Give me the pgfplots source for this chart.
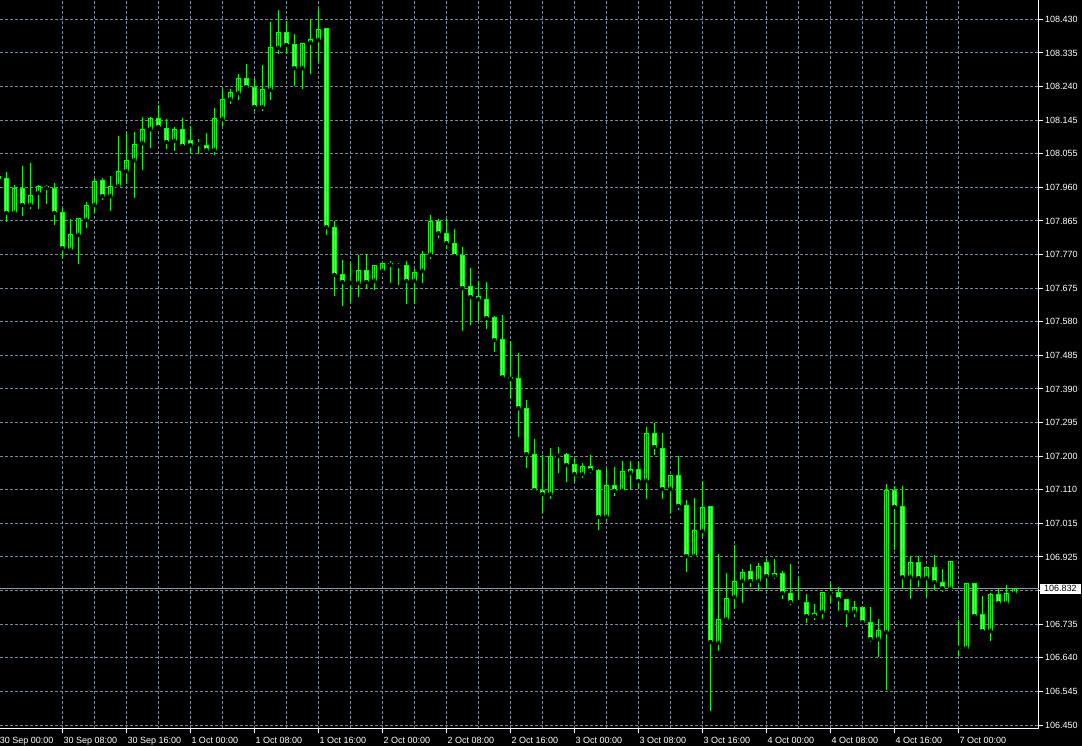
\documentclass[border=0pt]{standalone}
\usepackage{pgfplots}
\usepackage{pgfplotstable}
\pgfplotsset{compat=1.18}
\usepackage{fontspec}
\setmainfont{Liberation Sans}
\definecolor{cgreen}{RGB}{0,255,0}
\definecolor{cgrid}{RGB}{119,136,153}
\definecolor{cprice}{RGB}{150,150,150}

\pgfplotstableread{
i O H L C
0 107.982 107.999 107.971 107.990
1 107.982 108.002 107.861 107.887
2 107.887 107.965 107.884 107.954
3 107.954 108.018 107.878 107.909
4 107.909 108.027 107.898 107.937
5 107.943 107.965 107.898 107.962
6 107.962 107.965 107.912 107.957
7 107.954 107.971 107.853 107.887
8 107.887 107.901 107.760 107.788
9 107.783 107.870 107.780 107.825
10 107.825 107.870 107.743 107.870
11 107.867 107.917 107.845 107.909
12 107.909 107.985 107.887 107.976
13 107.979 107.985 107.923 107.934
14 107.934 107.990 107.892 107.962
15 107.962 108.103 107.962 108.004
16 108.004 108.111 107.968 108.035
17 108.035 108.114 107.929 108.080
18 108.083 108.156 108.007 108.122
19 108.122 108.156 108.069 108.153
20 108.153 108.190 108.122 108.128
21 108.125 108.150 108.066 108.086
22 108.089 108.128 108.061 108.122
23 108.122 108.153 108.069 108.075
24 108.091 108.131 108.052 108.077
25 108.080 108.094 108.052 108.080
26 108.077 108.111 108.061 108.063
27 108.063 108.181 108.049 108.153
28 108.150 108.234 108.131 108.206
29 108.206 108.234 108.192 108.226
30 108.223 108.277 108.204 108.265
31 108.265 108.305 108.234 108.240
32 108.240 108.263 108.173 108.184
33 108.184 108.302 108.173 108.234
34 108.232 108.422 108.204 108.350
35 108.350 108.456 108.333 108.394
36 108.394 108.425 108.333 108.358
37 108.358 108.389 108.243 108.293
38 108.293 108.364 108.234 108.361
39 108.364 108.431 108.277 108.372
40 108.372 108.459 108.307 108.400
41 108.403 108.403 107.825 107.847
42 107.847 107.864 107.654 107.713
43 107.713 107.755 107.626 107.693
44 107.690 107.746 107.634 107.690
45 107.690 107.769 107.651 107.724
46 107.724 107.772 107.673 107.693
47 107.696 107.741 107.671 107.738
48 107.724 107.746 107.718 107.746
49 107.746 107.752 107.690 107.741
50 107.738 107.746 107.685 107.738
51 107.738 107.752 107.631 107.696
52 107.696 107.729 107.631 107.721
53 107.724 107.780 107.690 107.769
54 107.769 107.881 107.757 107.864
55 107.864 107.870 107.816 107.830
56 107.830 107.870 107.786 107.802
57 107.802 107.842 107.763 107.766
58 107.766 107.791 107.555 107.676
59 107.679 107.732 107.572 107.651
60 107.651 107.696 107.584 107.645
61 107.645 107.693 107.561 107.592
62 107.592 107.598 107.497 107.530
63 107.533 107.600 107.421 107.426
64 107.426 107.527 107.365 107.421
65 107.421 107.494 107.258 107.339
66 107.339 107.362 107.171 107.210
67 107.210 107.252 107.109 107.109
68 107.109 107.208 107.045 107.098
69 107.098 107.227 107.084 107.202
70 107.205 107.230 107.157 107.205
71 107.208 107.213 107.132 107.180
72 107.180 107.199 107.132 107.154
73 107.154 107.185 107.143 107.174
74 107.174 107.208 107.157 107.165
75 107.165 107.168 106.997 107.034
76 107.034 107.168 107.022 107.123
77 107.123 107.174 107.093 107.107
78 107.107 107.191 107.107 107.160
79 107.157 107.191 107.109 107.168
80 107.168 107.188 107.112 107.135
81 107.135 107.286 107.084 107.269
82 107.269 107.297 107.208 107.230
83 107.227 107.269 107.084 107.112
84 107.112 107.151 107.045 107.151
85 107.149 107.205 107.053 107.065
86 107.065 107.081 106.879 106.924
87 106.924 107.087 106.919 106.997
88 106.994 107.135 106.977 107.059
89 107.062 107.062 106.489 106.683
90 106.680 106.930 106.658 106.747
91 106.747 106.877 106.747 106.806
92 106.809 106.955 106.775 106.854
93 106.854 106.888 106.792 106.879
94 106.882 106.902 106.837 106.854
95 106.854 106.905 106.826 106.896
96 106.907 106.916 106.832 106.868
97 106.874 106.916 106.860 106.868
98 106.874 106.882 106.804 106.820
99 106.820 106.902 106.787 106.795
100 106.795 106.865 106.792 106.795
101 106.795 106.818 106.736 106.756
102 106.756 106.790 106.745 106.764
103 106.767 106.823 106.747 106.823
104 106.820 106.848 106.792 106.823
105 106.823 106.837 106.770 106.804
106 106.801 106.804 106.725 106.767
107 106.767 106.798 106.753 106.781
108 106.781 106.781 106.739 106.739
109 106.739 106.781 106.683 106.691
110 106.691 106.747 106.641 106.714
111 106.711 107.126 106.548 107.109
112 107.107 107.121 106.941 107.062
113 107.062 107.121 106.832 106.865
114 106.865 106.924 106.804 106.907
115 106.907 106.924 106.837 106.862
116 106.862 106.891 106.809 106.891
117 106.891 106.927 106.829 106.851
118 106.851 106.888 106.823 106.834
119 106.832 106.910 106.829 106.910
120 106.666 106.745 106.644 106.666
121 106.666 106.848 106.663 106.848
122 106.848 106.848 106.750 106.756
123 106.759 106.812 106.711 106.714
124 106.714 106.820 106.686 106.815
125 106.815 106.832 106.787 106.792
126 106.792 106.843 106.787 106.820
127 106.820 106.834 106.820 106.832
}\candles

\begin{document}
\begin{tikzpicture}
\fill[black] (0pt,-17pt) rectangle (1082pt,729pt);
\useasboundingbox (0pt,-17pt) rectangle (1082pt,729pt);
\begin{axis}[
  at={(0pt,0pt)}, anchor=south west,
  scale only axis, width=1038.7pt, height=729pt,
  xmin=0.2125, xmax=130.05,
  ymin=106.4388, ymax=108.4842,
  axis x line=bottom, axis y line=right,
  axis line style={white, -, line width=1pt},
  stack plots=y,
  tick align=outside,
  major tick length=4pt, minor tick length=0pt,
  every tick/.style={white, line width=1pt},
  xtick={8,16,...,120},
  xticklabels={30 Sep 08:00,30 Sep 16:00,1 Oct 00:00,1 Oct 08:00,1 Oct 16:00,2 Oct 00:00,2 Oct 08:00,2 Oct 16:00,3 Oct 00:00,3 Oct 08:00,3 Oct 16:00,4 Oct 00:00,4 Oct 08:00,4 Oct 16:00,7 Oct 00:00},
  minor x tick num=1,
  ytick={108.430,108.3357,108.2414,108.1471,108.0529,107.9586,107.8643,107.7700,107.6757,107.5814,107.4871,107.3929,107.2986,107.2043,107.1100,107.0157,106.9214,106.8271,106.7329,106.6386,106.5443,106.4500},
  yticklabels={108.430,108.335,108.240,108.145,108.055,107.960,107.865,107.770,107.675,107.580,107.485,107.390,107.295,107.200,107.110,107.015,106.925,{},106.735,106.640,106.545,106.450},
  xmajorgrids, xminorgrids, ymajorgrids,
  major grid style={cgrid, line width=1pt, dash pattern=on 3pt off 2pt},
  minor grid style={cgrid, line width=1pt, dash pattern=on 3pt off 2pt},
  xticklabel style={font=\fontsize{9}{10}\selectfont, text=white, anchor=north west, inner sep=0pt, xshift=1pt, yshift=-4pt},
  yticklabel style={font=\fontsize{9}{10}\selectfont, text=white, anchor=west, inner sep=0pt, xshift=2.3pt},
  extra x ticks={0.22},
  extra x tick labels={30 Sep 00:00},
  extra x tick style={grid=none, tick style={draw=none}, xticklabel style={xshift=-1.5pt}},
  extra y ticks={106.832},
  extra y tick labels={106.832},
  extra y tick style={grid=major, major grid style={cprice, solid, line width=1pt}, major tick length=0pt,
     yticklabel style={fill=white, text=black, inner xsep=4pt, inner ysep=1.6pt, xshift=-1pt}},
]
\addplot[only marks, mark=none, forget plot,
  error bars/.cd, y dir=both, y explicit, error mark=none,
  error bar style={draw=cgreen, solid, line width=1pt}]
  table[x=i, y expr={min(\thisrow{O},\thisrow{C})},
        y error plus expr={\thisrow{H}-min(\thisrow{O},\thisrow{C})},
        y error minus expr={min(\thisrow{O},\thisrow{C})-\thisrow{L}}] {\candles};
\addplot[ybar, bar width=4pt, bar shift=0pt, fill=black, draw=cgreen, line width=1pt, forget plot]
  table[x=i, y expr={max(\thisrow{C}-\thisrow{O},0)}] {\candles};
\addplot[ybar, bar width=4pt, bar shift=0pt, fill=white, draw=cgreen, line width=1pt, forget plot]
  table[x=i, y expr={max(\thisrow{O}-\thisrow{C},0)}] {\candles};
\end{axis}
\end{tikzpicture}
\end{document}
